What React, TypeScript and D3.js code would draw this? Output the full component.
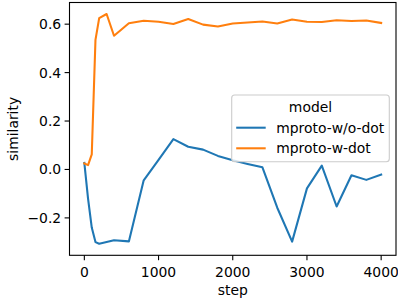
import React from "react";
import * as d3 from "d3";

// steps logged during training
const steps = [0, 50, 100, 150, 200, 400, 600, 800, 1000, 1200, 1400, 1600, 1800, 2000, 2200, 2400, 2600, 2800, 3000, 3200, 3400, 3600, 3800, 4000];
const stepsOrange = [0, 50, 100, 150, 200, 300, 400, 600, 800, 1000, 1200, 1400, 1600, 1800, 2000, 2200, 2400, 2600, 2800, 3000, 3200, 3400, 3600, 3800, 4000];

const woDot = [0.027, -0.12, -0.24, -0.3, -0.307, -0.292, -0.297, -0.045, 0.04, 0.125, 0.094, 0.082, 0.056, 0.038, 0.023, 0.009, -0.158, -0.298, -0.078, 0.016, -0.153, -0.024, -0.043, -0.021];
const wDot = [0.025, 0.018, 0.062, 0.535, 0.625, 0.642, 0.552, 0.604, 0.614, 0.61, 0.601, 0.621, 0.598, 0.59, 0.603, 0.607, 0.611, 0.603, 0.619, 0.61, 0.609, 0.616, 0.613, 0.615, 0.605];

const seriesNames = ["mproto-w/o-dot", "mproto-w-dot"];
const colors = ["#1f77b4", "#ff7f0e"];
const xTicks = [0, 1000, 2000, 3000, 4000];
const yTicks = [-0.2, 0.0, 0.2, 0.4, 0.6];

const W = 398;
const H = 302;
const left = 69.5;
const right = 396;
const top = 2.5;
const bottom = 255.3;
const font = "DejaVu Sans, sans-serif";
const fs = 13.9;

const App = () => {
  const series = [
    steps.map((s, i) => [s, woDot[i]] as [number, number]),
    stepsOrange.map((s, i) => [s, wDot[i]] as [number, number]),
  ];

  // matplotlib style 5% margins
  const allX = [...steps, ...stepsOrange];
  const allY = [...woDot, ...wDot];
  const [x0, x1] = d3.extent(allX) as [number, number];
  const [y0, y1] = d3.extent(allY) as [number, number];
  const px = (x1 - x0) * 0.05;
  const py = (y1 - y0) * 0.05;

  const x = d3.scaleLinear().domain([x0 - px, x1 + px]).range([left, right]);
  const y = d3.scaleLinear().domain([y0 - py, y1 + py]).range([bottom, top]);

  const line = d3
    .line<[number, number]>()
    .x((d) => x(d[0]))
    .y((d) => y(d[1]));

  const fmt = (v: number) => d3.format(".1f")(v).replace("-", "\u2212");

  const legX = 231.7;
  const legY = 95;

  return (
    <svg width={W} height={H} style={{ position: "absolute", left: 0, top: 0 }} fontFamily={font}>
      <rect x={0} y={0} width={W} height={H} fill="#fff" />
      <g>
        {series.map((d, i) => (
          <path key={i} d={line(d) || ""} fill="none" stroke={colors[i]} strokeWidth={2.08} strokeLinejoin="round" strokeLinecap="square" />
        ))}
      </g>
      <rect x={left} y={top} width={right - left} height={bottom - top} fill="none" stroke="#000" strokeWidth={1.1} />

      {/* x axis */}
      {xTicks.map((t) => (
        <g key={t}>
          <line x1={x(t)} x2={x(t)} y1={bottom} y2={bottom + 4.9} stroke="#000" strokeWidth={1.1} />
          <text x={x(t)} y={bottom + 21.3} textAnchor="middle" fontSize={fs}>
            {t}
          </text>
        </g>
      ))}
      <text x={(left + right) / 2} y={294.8} textAnchor="middle" fontSize={fs}>
        step
      </text>

      {/* y axis */}
      {yTicks.map((t) => (
        <g key={t}>
          <line x1={left - 4.9} x2={left} y1={y(t)} y2={y(t)} stroke="#000" strokeWidth={1.1} />
          <text x={left - 8.3} y={y(t) + 5} textAnchor="end" fontSize={fs}>
            {fmt(t)}
          </text>
        </g>
      ))}
      <text transform={`translate(17.5, ${(top + bottom) / 2}) rotate(-90)`} textAnchor="middle" fontSize={fs}>
        similarity
      </text>

      {/* legend */}
      <rect x={legX} y={legY} width={157.6} height={66.7} rx={3} fill="#fff" fillOpacity={0.8} stroke="#cccccc" strokeWidth={1.1} />
      <text x={legX + 78.8} y={legY + 17} textAnchor="middle" fontSize={fs}>
        model
      </text>
      {seriesNames.map((name, i) => (
        <g key={name} transform={`translate(${legX}, ${legY + 32.7 + i * 20.6})`}>
          <line x1={4.5} x2={34} y1={0} y2={0} stroke={colors[i]} strokeWidth={2.08} />
          <text x={44.5} y={5} fontSize={fs}>
            {name}
          </text>
        </g>
      ))}
    </svg>
  );
};

export default App;
